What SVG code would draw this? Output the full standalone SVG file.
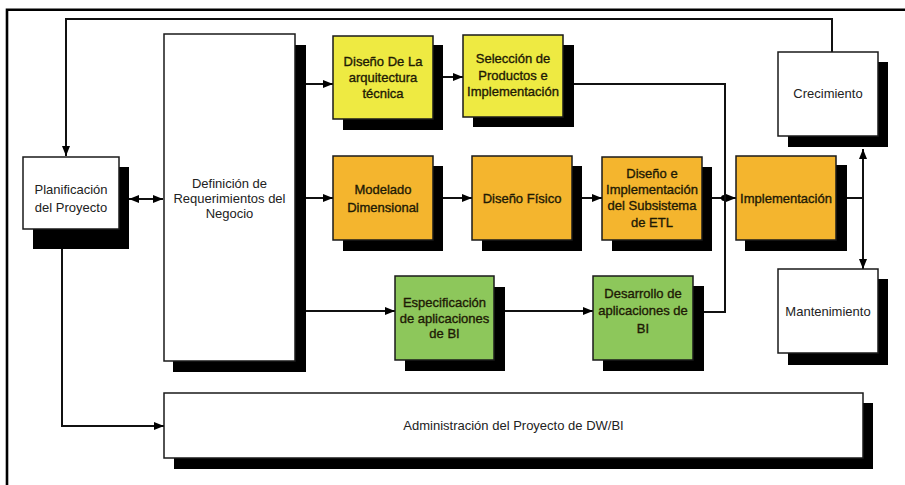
<svg xmlns="http://www.w3.org/2000/svg" width="905" height="485" viewBox="0 0 905 485">
<defs>
<style>
.sh{fill:#000}
.bx{stroke:#1a1a1a;stroke-width:1.5}
.w{fill:#fff}
.y{fill:#eeea42}
.o{fill:#f4b52e}
.g{fill:#8dc75b}
.t{font-family:"Liberation Sans",Arial,sans-serif;font-size:13px;text-anchor:middle;fill:#222}
.tb{font-family:"Liberation Sans",Arial,sans-serif;font-size:13px;text-anchor:middle;fill:#1e1a05;stroke:#1e1a05;stroke-width:0.35}
.c{fill:none;stroke:#111;stroke-width:2}
</style>
<marker id="ah" viewBox="0 0 10 8" refX="10" refY="4" markerWidth="10" markerHeight="8" markerUnits="userSpaceOnUse" orient="auto-start-reverse">
<path d="M0,0 L10,4 L0,8 z" fill="#000"/>
</marker>
</defs>
<rect x="0" y="0" width="905" height="485" fill="#fff"/>
<path d="M7,485 V9.7 H905" fill="none" stroke="#000" stroke-width="2.6"/>

<g id="connectors">
<path class="c" d="M832,52 V19 H66 V156" marker-end="url(#ah)"/>
<path class="c" d="M129,199 H163" marker-start="url(#ah)" marker-end="url(#ah)"/>
<path class="c" d="M62,249 V426 H164" marker-end="url(#ah)"/>
<path class="c" d="M306,84 H333" marker-end="url(#ah)"/>
<path class="c" d="M443,77 H463" marker-end="url(#ah)"/>
<path class="c" d="M306,198 H333" marker-end="url(#ah)"/>
<path class="c" d="M443,198 H472" marker-end="url(#ah)"/>
<path class="c" d="M582,198 H602" marker-end="url(#ah)"/>
<path class="c" d="M712,198 H736" marker-end="url(#ah)"/>
<circle cx="724" cy="198" r="3" fill="#000"/>
<path class="c" d="M574,84 H725 V312 H704"/>
<path class="c" d="M306,311 H395" marker-end="url(#ah)"/>
<path class="c" d="M505,311 H593" marker-end="url(#ah)"/>
<path class="c" d="M847,198 H863"/>
<path class="c" d="M863,198 V149" marker-end="url(#ah)"/>
<path class="c" d="M863,198 V269" marker-end="url(#ah)"/>
</g>

<g id="planificacion">
<rect class="sh" x="33" y="167" width="96" height="82"/>
<rect class="bx w" x="23" y="157" width="96" height="72"/>
<text class="t" x="71" y="193.5">Planificación</text>
<text class="t" x="71" y="211.5">del Proyecto</text>
</g>

<g id="definicion">
<rect class="sh" x="173" y="45" width="133" height="327"/>
<rect class="bx w" x="164" y="34" width="131" height="327"/>
<text class="t" x="229.5" y="188">Definición de</text>
<text class="t" x="229.5" y="203">Requerimientos del</text>
<text class="t" x="229.5" y="218">Negocio</text>
</g>

<g id="arquitectura">
<rect class="sh" x="343" y="45" width="100" height="85"/>
<rect class="bx y" x="333" y="36" width="100" height="83"/>
<text class="tb" x="383" y="65.5">Diseño De La</text>
<text class="tb" x="383" y="82">arquitectura</text>
<text class="tb" x="383" y="97.5">técnica</text>
</g>

<g id="seleccion">
<rect class="sh" x="473" y="45" width="101" height="82"/>
<rect class="bx y" x="463" y="35" width="100" height="82"/>
<text class="tb" x="513" y="62.5">Selección de</text>
<text class="tb" x="513" y="79.5">Productos e</text>
<text class="tb" x="513" y="95.5">Implementación</text>
</g>

<g id="modelado">
<rect class="sh" x="343" y="166" width="100" height="85"/>
<rect class="bx o" x="333" y="156" width="100" height="84"/>
<text class="tb" x="383" y="193.5">Modelado</text>
<text class="tb" x="383" y="211.5">Dimensional</text>
</g>

<g id="fisico">
<rect class="sh" x="482" y="166" width="100" height="85"/>
<rect class="bx o" x="472" y="156" width="100" height="84"/>
<text class="tb" x="522" y="202.5">Diseño Físico</text>
</g>

<g id="etl">
<rect class="sh" x="612" y="167" width="100" height="84"/>
<rect class="bx o" x="602" y="157" width="100" height="83"/>
<text class="tb" x="652" y="177.5">Diseño e</text>
<text class="tb" x="652" y="193.5">Implementación</text>
<text class="tb" x="652" y="210">del Subsistema</text>
<text class="tb" x="652" y="226.5">de ETL</text>
</g>

<g id="implementacion">
<rect class="sh" x="745" y="165" width="102" height="86"/>
<rect class="bx o" x="736" y="156" width="100" height="84"/>
<text class="tb" x="786" y="202.5">Implementación</text>
</g>

<g id="crecimiento">
<rect class="sh" x="788" y="62" width="100" height="85"/>
<rect class="bx w" x="778" y="52" width="100" height="84"/>
<text class="t" x="828" y="97.5">Crecimiento</text>
</g>

<g id="mantenimiento">
<rect class="sh" x="788" y="279" width="100" height="86"/>
<rect class="bx w" x="778" y="269" width="100" height="84"/>
<text class="t" x="828" y="315.5">Mantenimiento</text>
</g>

<g id="especificacion">
<rect class="sh" x="405" y="287" width="100" height="84"/>
<rect class="bx g" x="395" y="276" width="99" height="84"/>
<text class="tb" x="444.5" y="306.5">Especificación</text>
<text class="tb" x="444.5" y="322.5">de aplicaciones</text>
<text class="tb" x="444.5" y="338">de BI</text>
</g>

<g id="desarrollo">
<rect class="sh" x="603" y="286" width="101" height="85"/>
<rect class="bx g" x="593" y="276" width="100" height="84"/>
<text class="tb" x="643" y="297.5">Desarrollo de</text>
<text class="tb" x="643" y="315">aplicaciones de</text>
<text class="tb" x="643" y="332.5">BI</text>
</g>

<g id="administracion">
<rect class="sh" x="174" y="403" width="699" height="66"/>
<rect class="bx w" x="164" y="393" width="699" height="65"/>
<text class="t" x="513.5" y="429.5">Administración del Proyecto de DW/BI</text>
</g>
</svg>
